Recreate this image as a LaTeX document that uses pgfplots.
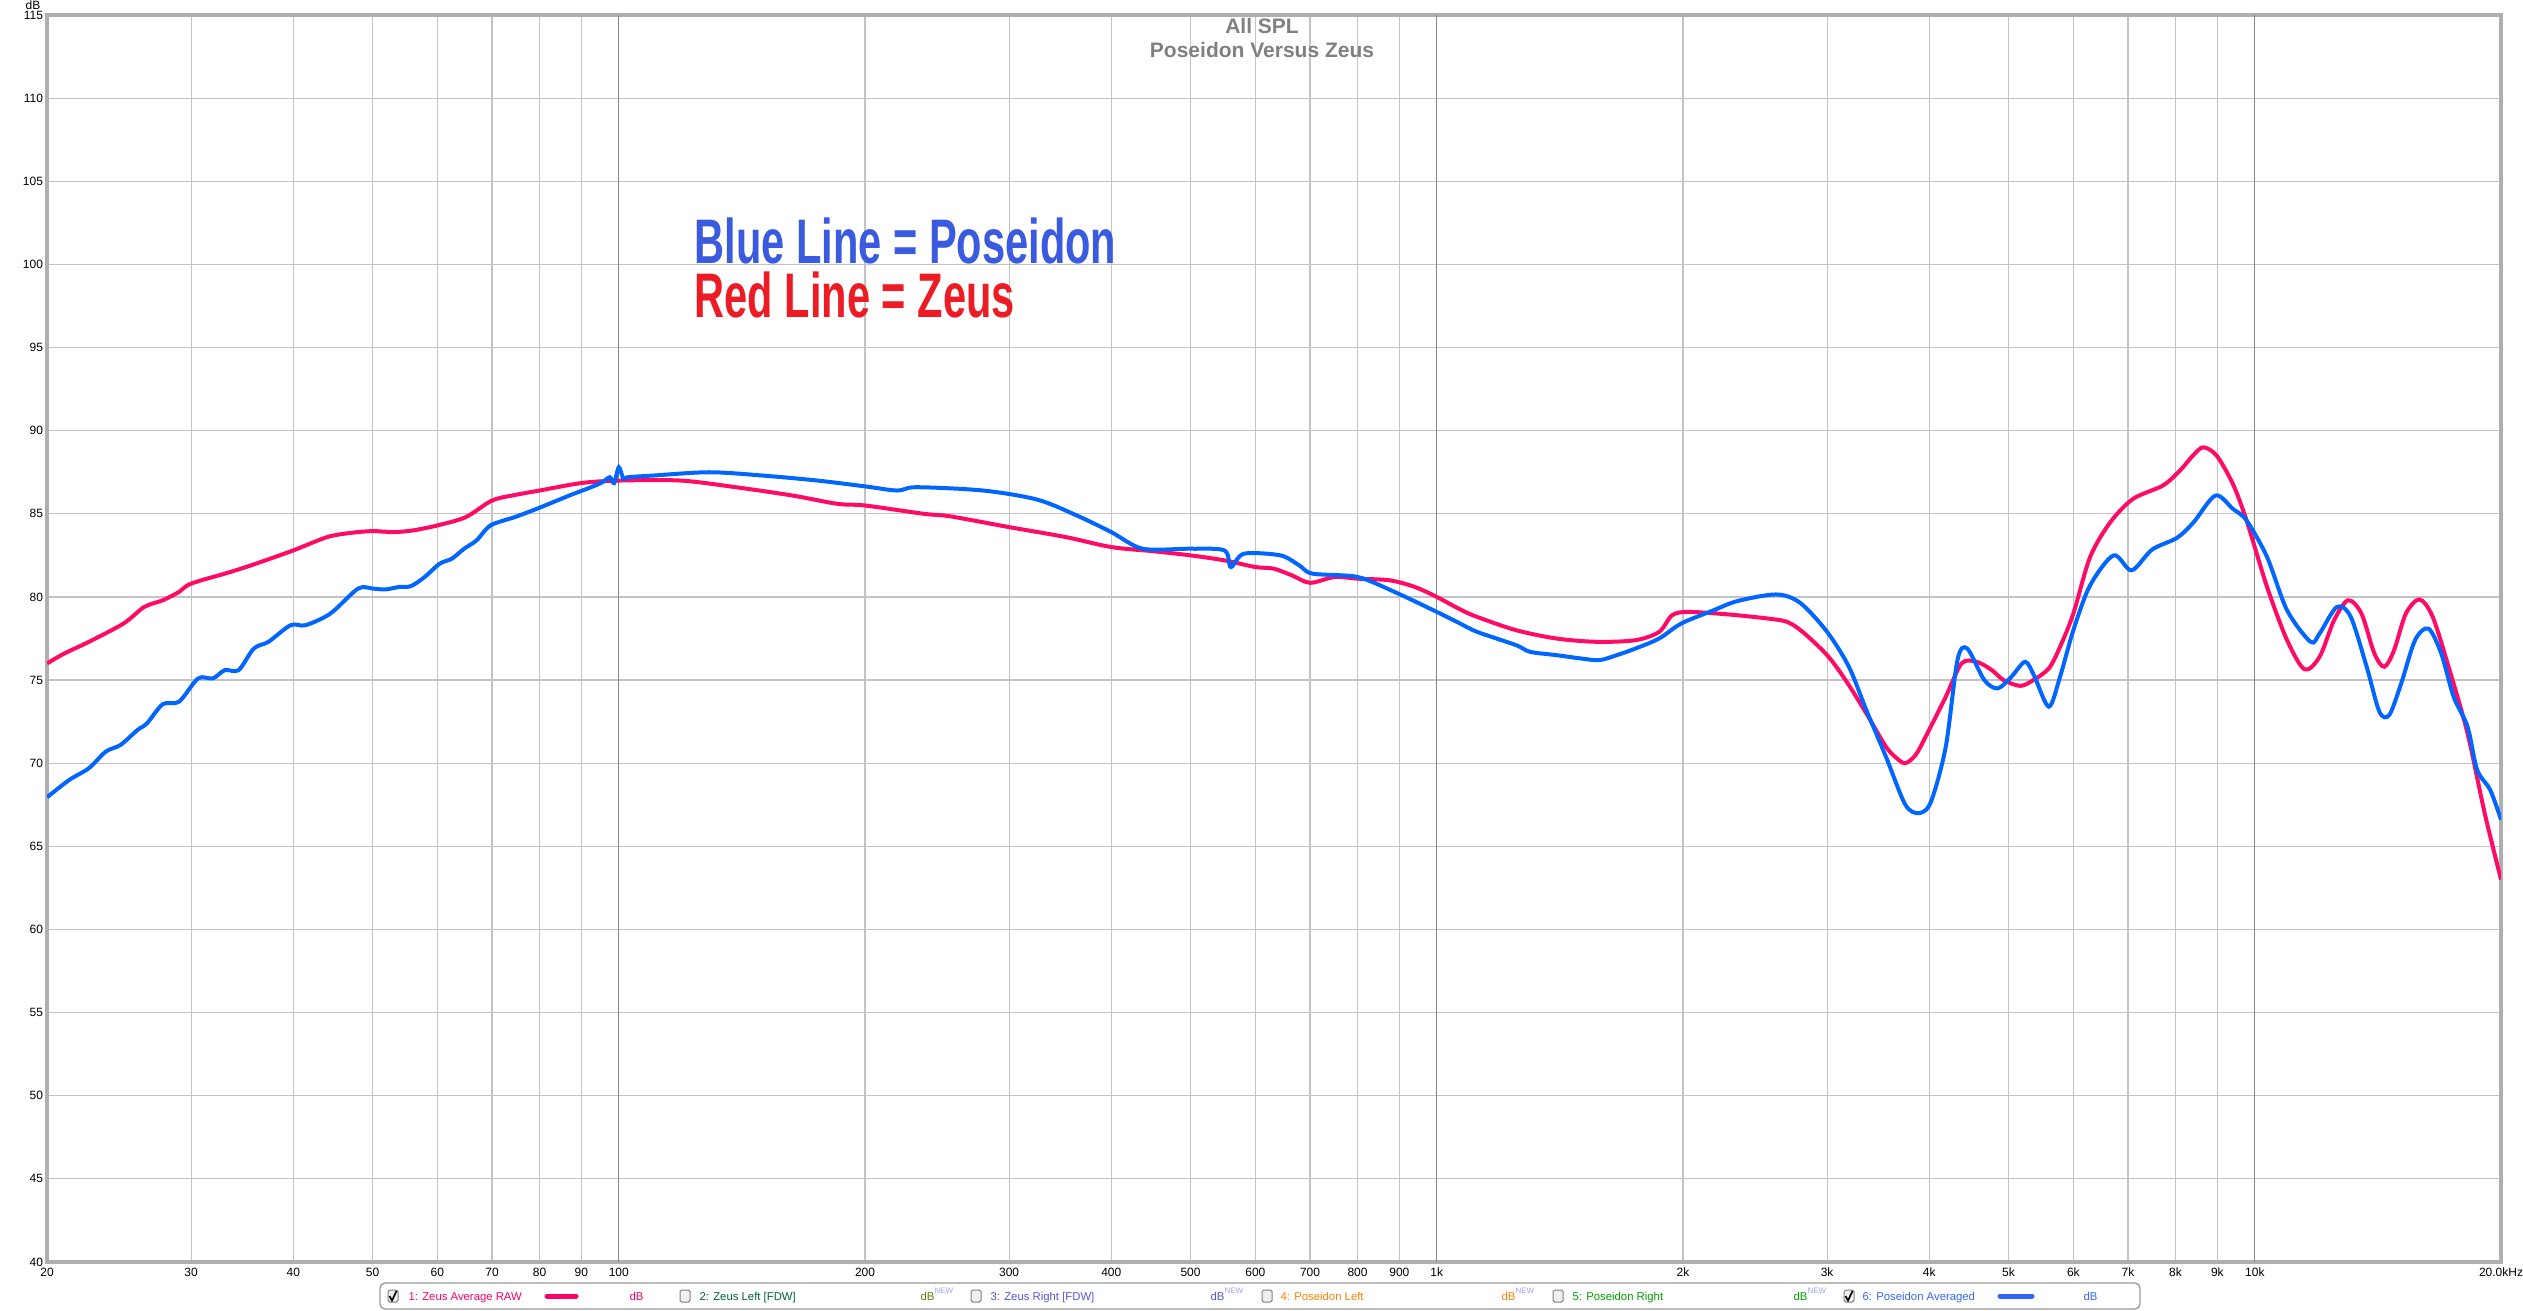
\documentclass[border=0pt]{standalone}
\usepackage{pgfplots}
\pgfplotsset{compat=1.18}
\usepackage{fontspec}
\setmainfont{Liberation Sans}
\definecolor{zeuscol}{RGB}{255,10,100}
\definecolor{poscol}{RGB}{0,102,255}
\definecolor{gridc}{RGB}{195,195,195}
\definecolor{gridd}{RGB}{135,135,135}
\definecolor{framec}{RGB}{175,175,175}
\definecolor{titlec}{RGB}{128,128,128}
\definecolor{bluetxt}{RGB}{58,90,224}
\definecolor{redtxt}{RGB}{237,28,36}
\definecolor{ca}{RGB}{255,0,102}
\definecolor{cb}{RGB}{0,100,50}
\definecolor{cbdb}{RGB}{90,130,0}
\definecolor{cc}{RGB}{85,85,221}
\definecolor{cd}{RGB}{255,128,0}
\definecolor{ce}{RGB}{0,160,0}
\definecolor{cf}{RGB}{51,102,255}
\definecolor{newc}{RGB}{160,160,255}
\newcommand{\tf}{\fontsize{3.6}{4.3}\selectfont}
\newcommand{\lf}{\fontsize{3.4}{4}\selectfont}
\newcommand{\cbox}[1]{\draw[rounded corners=0.5pt, draw=gray, fill=gray!12, line width=0.3pt] (#1-5,1290) rectangle (#1+5,1302);}
\newcommand{\cmark}[1]{\draw[line width=0.5pt] (#1-3.5,1296) -- (#1-1,1300.5) -- (#1+3.5,1291);}
\newcommand{\newsup}{\textsuperscript{\textcolor{newc}{NEW}}}

\pgfplotstableread{
f db
20 76.0
21 76.6
22.5 77.3
24.8 78.4
26.3 79.4
27.7 79.8
29 80.3
30 80.8
33.5 81.5
36 82.0
40 82.8
44 83.6
47 83.85
50 83.96
53 83.9
56 84.0
60 84.3
65 84.8
70 85.8
75 86.15
80 86.4
90 86.85
100 87.0
119 87.0
139 86.6
163 86.1
185 85.6
200 85.5
236 85.0
254 84.85
300 84.2
352 83.6
400 83.0
450 82.75
500 82.5
550 82.2
600 81.8
632 81.7
665 81.3
700 80.85
750 81.2
800 81.1
876 81.0
940 80.6
1000 80.0
1068 79.25
1120 78.8
1250 78.0
1400 77.5
1570 77.3
1750 77.4
1870 77.9
1940 78.9
2030 79.1
2270 78.95
2540 78.7
2680 78.5
2800 77.9
3000 76.5
3160 75.0
3350 73.0
3540 71.0
3650 70.3
3740 70.0
3850 70.5
3960 71.6
4190 74.0
4380 76.0
4570 76.1
4770 75.6
4930 75.0
5170 74.65
5360 75.0
5600 75.7
5780 77.0
6000 79.0
6290 82.4
6660 84.5
7100 85.9
7720 86.7
8100 87.6
8400 88.5
8650 89.0
8980 88.5
9400 86.8
9770 84.6
10350 80.6
10950 77.4
11500 75.65
12000 76.4
12500 78.6
13000 79.8
13500 79.0
14000 76.6
14400 75.8
14800 76.8
15300 79.0
15900 79.85
16500 78.8
17300 75.6
18200 71.8
19100 67.0
20000 63.0
}\zeustable

\pgfplotstableread{
f db
20 67.95
21.3 69.0
22.5 69.7
23.6 70.7
24.6 71.1
25.8 72.0
26.5 72.4
27.7 73.55
29 73.7
30.6 75.1
31.9 75.1
33 75.6
34.3 75.6
35.8 76.9
37.3 77.3
39.7 78.3
41.4 78.3
44.4 79.0
48 80.5
50.1 80.5
51.8 80.45
53.9 80.6
55.7 80.65
57.9 81.2
60.4 82.0
62.5 82.3
64.7 82.9
67 83.4
69.7 84.3
74.6 84.8
79.4 85.3
87 86.1
92.5 86.6
95.5 86.9
97.5 87.2
98.7 86.85
100 87.8
101.3 87.1
102.5 87.2
110 87.3
129 87.5
150 87.3
175 87.0
200 86.65
219 86.4
231 86.6
279 86.4
325 85.85
363 84.9
400 83.9
437 82.9
500 82.9
550 82.8
560 81.8
581 82.6
644 82.5
679 81.9
705 81.4
800 81.2
888 80.3
1000 79.1
1068 78.4
1120 77.9
1250 77.1
1300 76.7
1400 76.5
1500 76.3
1580 76.2
1660 76.5
1750 76.9
1870 77.5
1990 78.4
2180 79.2
2330 79.75
2600 80.15
2780 79.65
3000 77.9
3190 75.8
3350 73.2
3540 70.4
3740 67.5
3890 67.0
4020 67.7
4190 71.0
4330 76.2
4450 76.9
4670 75.0
4850 74.5
5040 75.2
5240 76.1
5380 75.2
5600 73.4
5780 75.2
6000 78.0
6290 80.7
6720 82.5
7070 81.6
7490 82.85
8030 83.55
8420 84.5
8950 86.1
9400 85.3
9770 84.6
10350 82.4
10950 79.2
11700 77.3
12000 77.8
12600 79.4
13100 78.8
13700 75.8
14200 73.1
14600 72.9
15100 74.8
15700 77.4
16300 78.1
16900 76.6
17500 74.0
18200 72.2
18700 69.6
19400 68.4
20000 66.6
}\poseidontable

\begin{document}
\begin{tikzpicture}
\begin{axis}[
 at={(14.1pt,-4.5pt)}, anchor=north west,
 scale only axis, width=736.2pt, height=374.1pt,
 xmode=log, xmin=20, xmax=20000, ymin=40, ymax=115,
 xtick={20,30,40,50,60,70,80,90,200,300,400,500,600,700,800,900,2000,3000,4000,5000,6000,7000,8000,9000,20000},
 xticklabels={20,30,40,50,60,70,80,90,200,300,400,500,600,700,800,900,2k,3k,4k,5k,6k,7k,8k,9k,20.0kHz},
 extra x ticks={100,1000,10000},
 extra x tick labels={100,1k,10k},
 extra x tick style={grid style={draw=gridd, line width=0.35pt}},
 ytick={40,45,...,115},
 grid=major,
 grid style={draw=gridc, line width=0.35pt},
 major tick length=0pt,
 minor tick length=0pt,
 axis line style={draw=framec, line width=1.2pt},
 tick label style={font=\tf, text=black},
 /pgf/number format/assume math mode=true,
 yticklabel style={inner sep=1pt},
 xticklabel style={inner sep=1pt, yshift=-0.6pt},
]
\addplot[zeuscol, line width=1.2pt, smooth] table[x=f, y=db] {\zeustable};
\addplot[poscol, line width=1.2pt, smooth] table[x=f, y=db] {\poseidontable};
\end{axis}
\begin{scope}[x=0.3pt, y=-0.3pt]
\node[font=\fontsize{6.3}{7}\selectfont\bfseries, text=titlec, anchor=base, inner sep=0] at (1262,33) {All SPL};
\node[font=\fontsize{6.3}{7}\selectfont\bfseries, text=titlec, anchor=base, inner sep=0] at (1262,57) {Poseidon Versus Zeus};
\node[font=\tf, anchor=base, inner sep=0] at (33,9) {dB};
\node[anchor=base west, inner sep=0, text=bluetxt, font=\fontsize{18.9}{20}\selectfont\bfseries] at (694,263) {\scalebox{0.66}[1]{Blue Line = Poseidon}};
\node[anchor=base west, inner sep=0, text=redtxt, font=\fontsize{18.9}{20}\selectfont\bfseries] at (694,317) {\scalebox{0.66}[1]{Red Line = Zeus}};
% legend box
\draw[rounded corners=1.5pt, draw=gray!80, line width=0.4pt, fill=white] (380,1283) rectangle (2140,1309);
\cbox{393}\cmark{393}
\node[anchor=base west, inner sep=0, font=\lf, text=ca] at (408,1300) {1: Zeus Average RAW};
\draw[ca, line width=1.5pt, line cap=round] (547,1296) -- (576,1296);
\node[anchor=base west, inner sep=0, font=\lf, text=ca] at (629,1300) {dB};
\cbox{685}
\node[anchor=base west, inner sep=0, font=\lf, text=cb] at (699,1300) {2: Zeus Left [FDW]};
\node[anchor=base west, inner sep=0, font=\lf, text=cbdb] at (920,1300) {dB\newsup};
\cbox{976}
\node[anchor=base west, inner sep=0, font=\lf, text=cc] at (990,1300) {3: Zeus Right [FDW]};
\node[anchor=base west, inner sep=0, font=\lf, text=cc] at (1210,1300) {dB\newsup};
\cbox{1267}
\node[anchor=base west, inner sep=0, font=\lf, text=cd] at (1280,1300) {4: Poseidon Left};
\node[anchor=base west, inner sep=0, font=\lf, text=cd] at (1501,1300) {dB\newsup};
\cbox{1558}
\node[anchor=base west, inner sep=0, font=\lf, text=ce] at (1572,1300) {5: Poseidon Right};
\node[anchor=base west, inner sep=0, font=\lf, text=ce] at (1793,1300) {dB\newsup};
\cbox{1849}\cmark{1849}
\node[anchor=base west, inner sep=0, font=\lf, text=cf] at (1862,1300) {6: Poseidon Averaged};
\draw[cf, line width=1.5pt, line cap=round] (2000,1296) -- (2032,1296);
\node[anchor=base west, inner sep=0, font=\lf, text=cf] at (2083,1300) {dB};
\pgfresetboundingbox
\path[use as bounding box] (0,0) rectangle (2523,1310);
\end{scope}
\end{tikzpicture}
\end{document}
